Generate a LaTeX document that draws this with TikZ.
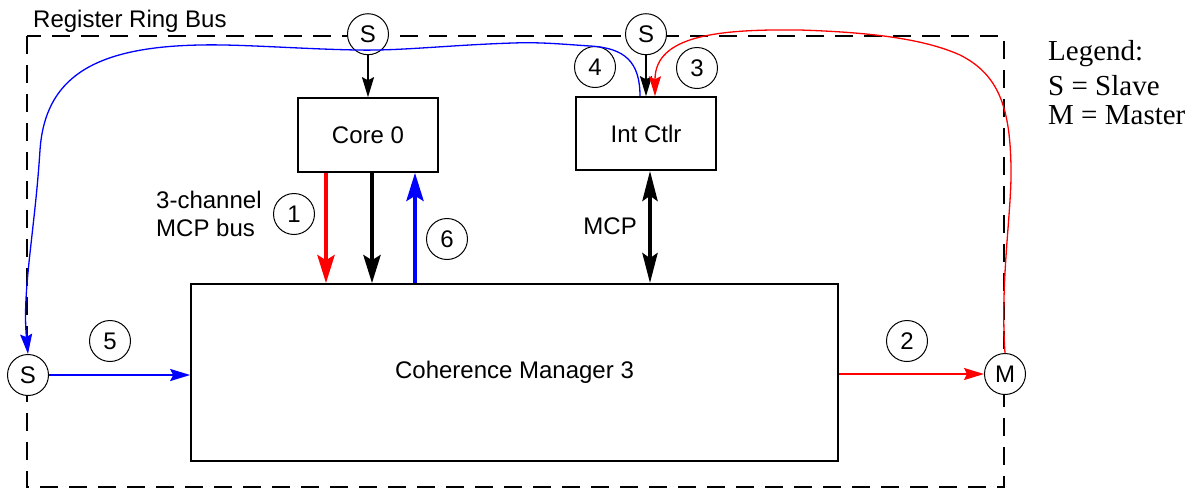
\documentclass[tikz,border=0pt]{standalone}
\usepackage{fontspec}
\setmainfont{Liberation Sans}
\newfontfamily\legendfont{Liberation Serif}
\usepackage{tikz}
\usetikzlibrary{arrows.meta,positioning}
\tikzset{>={Stealth[length=20pt,width=12pt,inset=3pt]}}
\tikzset{box node/.style={rectangle,draw,line width=1.6pt,font=\fontsize{24}{29}\selectfont},
         port node/.style={circle,draw,fill=white,line width=1pt,minimum size=41pt,inner sep=0pt,font=\fontsize{24}{29}\selectfont},
         num node/.style={circle,draw,line width=1pt,minimum size=41pt,inner sep=0pt,font=\fontsize{24}{29}\selectfont},
         label node/.style={anchor=base west,inner sep=0pt,font=\fontsize{24}{29}\selectfont},
         legend node/.style={anchor=base west,inner sep=0pt,font=\legendfont\fontsize{29}{34}\selectfont},
         bus/.style={line width=4.5pt,-{Stealth[length=28pt,width=17pt,inset=5pt]}},
         ring/.style={line width=1.3pt},
            }

\begin{document}
\begin{tikzpicture}[x=1pt,y=1pt]

    \useasboundingbox (0,0) rectangle (1203,-491);

    % ring bus frame
    \draw[line width=2.5pt,dash pattern=on 18pt off 11pt] (27,-36) rectangle (1004,-487);
    \node[label node] (ring) at (33,-27) {Register Ring Bus};

    \node[box node,minimum width=647pt,minimum height=177pt] (cm) at (514.5,-372.5) {Coherence Manager 3};
    \node[box node,minimum width=140pt,minimum height=74pt] (core) at (368,-135) {Core 0};
    \node[box node,minimum width=140pt,minimum height=73pt] (intctlr) at (646,-133.5) {Int Ctlr};

    \node[port node] (s1) [above = 42pt of core] {S};
    \node[port node] (s2) [above = 41pt of intctlr] {S};
    \node[port node] (lefts) at (28,-375) {S};
    \node[port node] (m) at (1005,-374) {M};

    \node[num node] (n1) at (294,-214) {1};
    \node[num node] (n2) at (907,-341) {2};
    \node[num node] (n3) at (697,-68) {3};
    \node[num node] (n4) at (595,-67) {4};
    \node[num node] (n5) at (110,-341) {5};
    \node[num node] (n6) at (447,-239) {6};

    \node[label node] (chan1) at (156,-208) {3-channel};
    \node[label node] (chan2) at (156,-236) {MCP bus};
    \node[label node,anchor=base east] (mcp) at (637,-234) {MCP};

    \node[legend node] (leg1) at (1048,-60) {Legend:};
    \node[legend node] (leg2) at (1048,-95) {S = Slave};
    \node[legend node] (leg3) at (1048,-124) {M = Master};

    % slave ports
    \draw[line width=1.8pt,->] (s1) -- (core);
    \draw[line width=1.8pt,->] (s2) -- (intctlr);

    % MCP channels
    \draw[bus,red] ([xshift=-42pt]core.south) -- ([xshift=-42pt]core.south |- cm.north);
    \draw[bus] ([xshift=4pt]core.south) -- ([xshift=4pt]core.south |- cm.north);
    \draw[bus,blue] ([xshift=47pt]core.south |- cm.north) -- ([xshift=47pt]core.south);
    \draw[line width=4.5pt,{Stealth[length=30pt,width=15pt,inset=5pt]}-{Stealth[length=30pt,width=15pt,inset=5pt]}]
        ([xshift=4pt]intctlr.south) -- ([xshift=4pt]intctlr.south |- cm.north);

    \draw[blue,line width=2pt,->] (lefts.east) -- (lefts.east -| cm.west);
    \draw[red,line width=2pt,->] (cm.east |- m) -- (m);

    % ring paths
    \draw[ring,blue,->] ([xshift=-6pt]intctlr.north) .. controls (640,-62) and (625,-48) .. (590,-46)
        .. controls (560,-44) and (540,-42) .. (513,-43)
        .. controls (450,-45) and (400,-51) .. (357,-50)
        .. controls (300,-49) and (240,-44) .. (200,-45)
        .. controls (90,-47) and (45,-80) .. (40,-150)
        .. controls (35,-230) and (22,-290) .. (lefts.north);
    \draw[ring,red,->] (m.north) .. controls (1000,-280) and (1012,-210) .. (1011,-167)
        .. controls (1010,-110) and (1000,-75) .. (960,-55)
        .. controls (920,-37) and (860,-32) .. (800,-30)
        .. controls (720,-29) and (655,-35) .. ([xshift=9pt]intctlr.north);

\end{tikzpicture}
\end{document}
